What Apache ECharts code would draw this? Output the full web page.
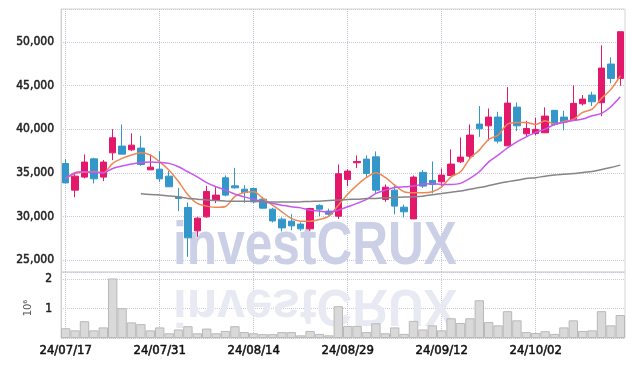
<!DOCTYPE html>
<html>
<head>
<meta charset="utf-8">
<script src="https://cdn.jsdelivr.net/npm/echarts@6/dist/echarts.min.js"></script>
<style>
html, body { margin: 0; padding: 0; background: #fff; }
#chart { width: 634px; height: 366px; }
</style>
</head>
<body>
<div id="chart"></div>
<script>
var dates = ['24/07/17','24/07/18','24/07/19','24/07/22','24/07/23','24/07/24','24/07/25','24/07/26','24/07/29','24/07/30',
    '24/07/31','24/08/01','24/08/02','24/08/05','24/08/06','24/08/07','24/08/08','24/08/09','24/08/12','24/08/13',
    '24/08/14','24/08/16','24/08/19','24/08/20','24/08/21','24/08/22','24/08/23','24/08/26','24/08/27','24/08/28',
    '24/08/29','24/08/30','24/09/02','24/09/03','24/09/04','24/09/05','24/09/06','24/09/09','24/09/10','24/09/11',
    '24/09/12','24/09/13','24/09/19','24/09/20','24/09/23','24/09/24','24/09/25','24/09/26','24/09/27','24/09/30',
    '24/10/02','24/10/04','24/10/07','24/10/08','24/10/10','24/10/11','24/10/14','24/10/15','24/10/16','24/10/17'];

var opens = [36070,33020,34510,36600,34510,37290,38060,37630,37830,35340,35420,34620,32220,31040,28360,29960,31840,34430,33510,33130,
    33210,31990,30840,29700,29470,29130,28590,31270,30620,30040,34250,36150,36570,36830,31960,33020,31070,29730,35050,34130,
    33970,34700,36260,36910,40580,40380,41380,38090,42520,39470,39510,39580,42150,41380,41030,42900,43900,43020,47450,45810];
var closes = [33850,34620,36230,34310,36230,39010,37140,38170,35960,35650,34310,33400,32070,27560,29810,32870,32450,32450,33280,32760,
    31680,30960,29500,28700,28930,28590,30920,30840,30270,34890,35200,36300,34930,33020,33360,31190,30540,34510,33480,33670,
    34740,36000,36800,39320,40040,41380,38630,42980,40380,40080,39970,41490,40540,40810,42950,43440,43130,46990,45810,51150];
var lows = [33800,32220,34360,33790,34050,36460,37140,37490,35800,35340,33970,33400,30620,25380,27670,29850,31530,32300,33200,31570,
    31500,30900,29320,28290,28440,28360,28360,30040,30100,29730,33480,35540,34540,32640,31680,30270,29890,29700,33280,32640,
    33500,34650,36110,36530,39120,38670,38370,38090,39780,39200,39300,39550,40400,39860,41030,42700,42640,41490,45240,44960];
var highs = [36570,34930,37110,36720,36460,40000,40540,39510,39240,37110,37490,35200,33280,31610,29960,33510,33360,34700,35570,33590,
    33280,32260,31000,29900,30270,29330,31000,31400,30900,35960,35400,36990,37000,37450,33670,33670,31380,34700,35310,36300,
    35500,37680,39050,40540,42640,42370,41990,44810,43060,40950,41300,42490,42150,42100,45010,43900,44280,49590,48210,51150];

var ma5 = [34360,34930,35080,35120,35000,36080,36650,37030,37290,37030,36260,35300,34000,32500,31500,31190,31050,31150,32300,32760,
    32830,32070,31300,30540,29780,29470,29470,29670,30040,31300,32560,33590,34470,35000,34470,33590,32830,32710,32710,32830,
    33400,34540,35120,36650,37600,38830,39320,40580,40770,40770,40540,40960,40580,40890,41120,41920,42290,43520,44550,46110];
var ma10 = [34360,35000,35120,35050,35000,35500,35770,36000,36190,36230,36190,36080,35690,35120,34540,33880,33400,33020,32560,32250,
    31960,31680,31500,31300,31110,30990,30730,30620,30500,30730,31110,31500,31960,32640,33020,33330,33400,33480,33710,33760,
    33670,33670,33790,34360,35120,36260,37030,37860,38550,39120,39630,40000,40540,40770,41000,41150,41530,41800,42560,43700];
var maLong = [null,null,null,null,null,null,null,null,32600,32530,32450,32360,32250,32070,31990,31880,31820,31780,31760,31760,
    31730,31680,31650,31650,31650,31680,31730,31760,31820,31880,31960,31990,32050,32070,32130,32180,32220,32250,32330,32500,
    32640,32790,32910,33130,33310,33540,33790,33990,34140,34340,34450,34620,34740,34850,34910,35050,35160,35370,35600,35880];

var volumes = [330000,260000,570000,260000,360000,2020000,1010000,530000,470000,260000,360000,160000,290000,400000,160000,320000,160000,240000,400000,200000,
    160000,130000,130000,200000,200000,90000,240000,140000,90000,1080000,410000,410000,200000,500000,160000,360000,140000,580000,290000,430000,
    260000,670000,510000,670000,1280000,540000,430000,910000,600000,200000,170000,230000,140000,360000,600000,240000,260000,910000,430000,780000];

var labelFont = '"DejaVu Sans Condensed", "DejaVu Sans", sans-serif';

var candles = [];
for (var i = 0; i < dates.length; i++) {
    candles.push([opens[i], closes[i], lows[i], highs[i]]);
}

var chart = echarts.init(document.getElementById('chart'));

var option = {
    animation: false,
    grid: [
        { left: 61, right: 9, top: 9, height: 263, show: true, borderColor: '#d6d6d6', borderWidth: 1 },
        { left: 61, right: 9, top: 272, height: 66, show: true, borderColor: '#d6d6d6', borderWidth: 1 }
    ],
    graphic: [
        {
            type: 'text', x: 315, y: 278, scaleX: 0.8, scaleY: 1, z: 1, silent: true,
            style: { text: 'investCRUX', font: 'bold 62px "Liberation Sans", sans-serif', fill: '#cbd0e7',
                textAlign: 'center', textVerticalAlign: 'bottom' }
        },
        {
            type: 'text', x: 315, y: 278, scaleX: 0.8, scaleY: -0.85, z: 1, silent: true,
            style: { text: 'investCRUX', font: 'bold 62px "Liberation Sans", sans-serif', fill: '#e7e9f3',
                textAlign: 'center', textVerticalAlign: 'bottom' }
        }
    ],
    xAxis: [
        {
            type: 'category', gridIndex: 0, data: dates, boundaryGap: true,
            axisLine: { show: false }, axisTick: { show: false },
            axisLabel: { show: false, interval: 9 },
            splitLine: { show: true, interval: 9, alignWithLabel: true, lineStyle: { type: 'dotted', color: '#c4c4cc' } }
        },
        {
            type: 'category', gridIndex: 1, data: dates, boundaryGap: true,
            axisLine: { show: false }, axisTick: { show: false },
            axisLabel: { interval: 9, margin: 6, fontSize: 13, color: '#111', fontFamily: labelFont,
                textBorderColor: '#111', textBorderWidth: 0.5 },
            splitLine: { show: true, interval: 9, alignWithLabel: true, lineStyle: { type: 'dotted', color: '#c4c4cc' } }
        }
    ],
    yAxis: [
        {
            type: 'value', gridIndex: 0, min: 23650, max: 53750,
            axisLine: { show: true, lineStyle: { color: '#cfcfcf' } }, axisTick: { show: false },
            axisLabel: {
                showMinLabel: false, showMaxLabel: false, margin: 7, fontSize: 12, color: '#222', fontFamily: labelFont,
                textBorderColor: '#222', textBorderWidth: 0.5, padding: [3, 0, 0, 0],
                formatter: function (v) { return v.toLocaleString('en-US'); }
            },
            splitLine: { lineStyle: { type: 'dotted', color: '#c8c8d8' } }
        },
        {
            type: 'value', gridIndex: 1, min: 0, max: 2240000, interval: 1000000,
            name: '10\u2076', nameLocation: 'middle', nameRotate: 90, nameGap: 26,
            nameTextStyle: { fontSize: 11, color: '#555', fontFamily: labelFont, padding: [0, 6, 0, 0] },
            axisLine: { show: true, lineStyle: { color: '#cfcfcf' } }, axisTick: { show: false },
            axisLabel: {
                showMaxLabel: false, margin: 9, fontSize: 12, color: '#222', fontFamily: labelFont,
                textBorderColor: '#222', textBorderWidth: 0.5,
                formatter: function (v) { return v === 0 ? '' : String(v / 1000000); }
            },
            splitLine: { lineStyle: { type: 'dotted', color: '#c8c8d8' } }
        }
    ],
    series: [
        {
            type: 'candlestick', xAxisIndex: 0, yAxisIndex: 0, data: candles, barWidth: 7,
            itemStyle: { color: '#e3186b', color0: '#3397c9', borderColor: '#e3186b', borderColor0: '#3397c9', borderWidth: 1 }
        },
        {
            type: 'line', name: 'MA5', xAxisIndex: 0, yAxisIndex: 0, data: ma5, symbol: 'none', smooth: 0.3, z: 3,
            lineStyle: { color: '#ef8752', width: 1.5 }
        },
        {
            type: 'line', name: 'MA10', xAxisIndex: 0, yAxisIndex: 0, data: ma10, symbol: 'none', smooth: 0.3, z: 3,
            lineStyle: { color: '#c855ee', width: 1.5 }
        },
        {
            type: 'line', name: 'MA', xAxisIndex: 0, yAxisIndex: 0, data: maLong, symbol: 'none', smooth: 0.3, z: 3,
            lineStyle: { color: '#858585', width: 1.5 }
        },
        {
            type: 'bar', xAxisIndex: 1, yAxisIndex: 1, data: volumes, barCategoryGap: '0%',
            itemStyle: { color: '#d9d9d9', borderColor: '#b9b9b9', borderWidth: 1 }
        }
    ]
};

chart.setOption(option);
window.addEventListener('resize', chart.resize);
</script>
</body>
</html>
